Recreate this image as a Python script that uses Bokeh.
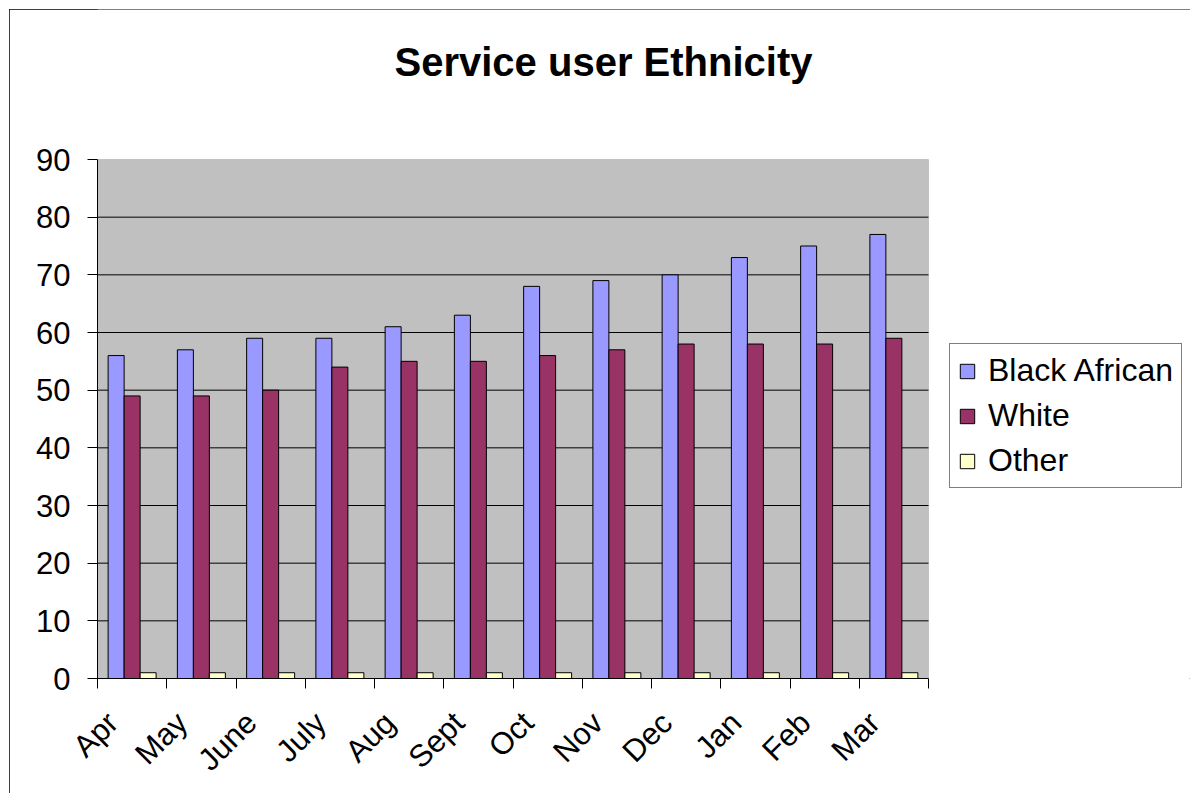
import math
from bokeh.plotting import figure
from bokeh.models import (Range1d, LinearAxis, FixedTicker, BoxAnnotation, Label,
                          Legend, LegendItem, ColumnDataSource)
from bokeh.transform import dodge
from bokeh.embed import file_html
from bokeh.resources import INLINE

# ---- data ----
months = ["Apr", "May", "June", "July", "Aug", "Sept", "Oct", "Nov", "Dec", "Jan", "Feb", "Mar"]
black_african = [56, 57, 59, 59, 61, 63, 68, 69, 70, 73, 75, 77]
white = [49, 49, 50, 54, 55, 55, 56, 57, 58, 58, 58, 59]
other = [1, 1, 1, 1, 1, 1, 1, 1, 1, 1, 1, 1]
series_names = ["Black African", "White", "Other"]
y_ticks = [0, 10, 20, 30, 40, 50, 60, 70, 80, 90]
title_text = "Service user Ethnicity"

FONT = "Liberation Sans"
colors = ["#9999FF", "#993366", "#FFFFCC"]

# ---- layout constants (canvas pixels) ----
W, H = 1181, 784
FL, FB = 88, 115          # frame left / bottom border
PR, PT = 919, 150         # plot-area right edge / top edge
n = len(months)
y_max = y_ticks[-1]
frame_w, frame_h = W - FL, H - FB
x_end = n * frame_w / (PR - FL)
y_end = y_max * frame_h / (frame_h - PT)

centers = [i + 0.5 for i in range(n)]
bounds = list(range(n + 1))
label_pos = [round(c - 0.28, 4) for c in centers]

p = figure(width=W, height=H,
           x_range=Range1d(0, x_end), y_range=Range1d(0, y_end),
           output_backend="svg", toolbar_location=None,
           x_axis_location=None, title=None,
           min_border_left=FL, min_border_right=0,
           min_border_top=0, min_border_bottom=FB)

p.background_fill_color = "white"
p.border_fill_color = "white"
p.outline_line_color = None
p.styles = {"margin-left": "9px", "margin-top": "9px",
            "outline": "1px solid black", "outline-offset": "-1px"}

# plot area background
p.add_layout(BoxAnnotation(left=0, right=n, bottom=0, top=y_max,
                           fill_color="#C0C0C0", fill_alpha=1,
                           line_color="#808080", line_width=1, level="underlay"))

# gridlines
grid_y = y_ticks[1:-1]
p.segment(x0=[0] * len(grid_y), x1=[n] * len(grid_y), y0=grid_y, y1=grid_y,
          line_color="black", line_width=1)

# x axis: month labels as major ticks, category boundaries as (minor) tick marks
x_axis = LinearAxis(ticker=FixedTicker(ticks=label_pos, minor_ticks=bounds), bounds=(0, n),
                    major_label_overrides={c: m for c, m in zip(label_pos, months)},
                    major_tick_line_color=None, major_tick_out=0, major_tick_in=0,
                    minor_tick_line_color="black", minor_tick_out=10, minor_tick_in=0,
                    axis_line_color="black",
                    major_label_orientation=math.pi / 4,
                    major_label_text_font_size="31px",
                    major_label_text_font=FONT,
                    major_label_text_color="black",
                    major_label_standoff=29)
p.add_layout(x_axis, "below")

# y axis
p.yaxis.ticker = FixedTicker(ticks=y_ticks)
p.yaxis.bounds = (0, y_max)
p.yaxis.major_tick_out = 10
p.yaxis.major_tick_in = 0
p.yaxis.minor_tick_line_color = None
p.yaxis.axis_line_color = "black"
p.yaxis.major_tick_line_color = "black"
p.yaxis.major_label_text_font = FONT
p.yaxis.major_label_text_font_size = "31px"
p.yaxis.major_label_text_color = "black"
p.yaxis.major_label_standoff = 17

p.ygrid.visible = False
p.xgrid.visible = False

src = ColumnDataSource(dict(xc=centers, ba=black_african, wh=white, ot=other))
w = 0.231
renderers = []
for off, col, fc in zip([-w, 0, w], ["ba", "wh", "ot"], colors):
    r = p.vbar(x=dodge("xc", off), top=col, bottom=0, width=w,
               source=src, fill_color=fc, line_color="black", line_width=1)
    renderers.append(r)

legend = Legend(items=[LegendItem(label=s, renderers=[r]) for s, r in zip(series_names, renderers)],
                location=(852, 190),
                label_text_font=FONT, label_text_font_size="32px", label_text_color="black",
                glyph_width=18, glyph_height=18, label_standoff=12,
                spacing=8, padding=8, margin=0,
                border_line_color="black", border_line_width=1,
                background_fill_color="white", background_fill_alpha=1)
p.add_layout(legend)

title = Label(x=506, y=617, x_units="screen", y_units="screen", text=title_text,
              text_font=FONT, text_font_size="40px", text_font_style="bold",
              text_color="black", text_align="center", text_baseline="middle")
p.add_layout(title)

open("out.html", "w").write(file_html(p, INLINE))
